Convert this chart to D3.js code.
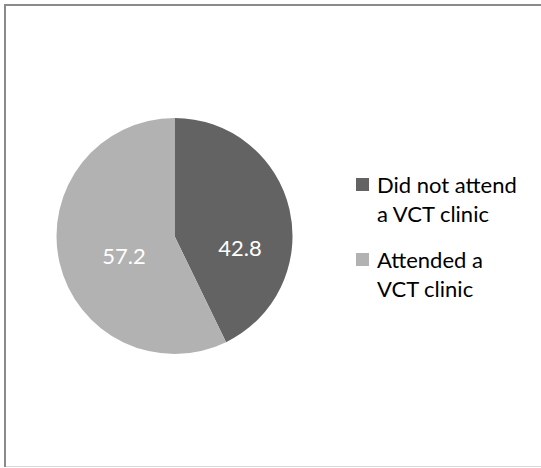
<!DOCTYPE html>
<html>
<head>
<meta charset="utf-8">
<script src="https://cdn.jsdelivr.net/npm/d3@7"></script>
<style>
  html, body { margin: 0; padding: 0; background: #fff; }
  svg { display: block; }
  text { font-family: "Lato", "Open Sans", sans-serif; }
</style>
</head>
<body>
<svg id="chart" width="541" height="468"></svg>
<script>
// ---- data ----
const categories = ["Did not attend a VCT clinic", "Attended a VCT clinic"];
const legendLines = [["Did not attend", "a VCT clinic"], ["Attended a", "VCT clinic"]];
const values = [42.8, 57.2];
const valueLabels = ["42.8", "57.2"];
const colors = ["#636363", "#b2b2b2"];

// ---- layout ----
const W = 541, H = 468;
const cx = 174.5, cy = 236, R = 118;
const fontSize = 22;
// label nudges (Excel-style label placement)
const labelNudge = [[8, 25], [7, 6]];

const svg = d3.select("#chart");

// frame
svg.append("line").attr("x1", 4).attr("x2", W).attr("y1", 5).attr("y2", 5)
  .attr("stroke", "#8a8a8a").attr("stroke-width", 2);
svg.append("line").attr("x1", 5).attr("x2", 5).attr("y1", 4).attr("y2", 467)
  .attr("stroke", "#8a8a8a").attr("stroke-width", 2);
svg.append("line").attr("x1", 6).attr("x2", W).attr("y1", 466.5).attr("y2", 466.5)
  .attr("stroke", "#d9d9d9").attr("stroke-width", 1);

const pie = d3.pie().sort(null).value(d => d)
  .startAngle(0).endAngle(2 * Math.PI);
const arcs = pie(values);
const arc = d3.arc().innerRadius(0).outerRadius(R);
const labelArc = d3.arc().innerRadius(0).outerRadius(R);

const g = svg.append("g").attr("transform", `translate(${cx},${cy})`);
g.selectAll("path.slice").data(arcs).join("path")
  .attr("class", "slice")
  .attr("d", arc)
  .attr("fill", (d, i) => colors[i]);

g.selectAll("text.val").data(arcs).join("text")
  .attr("class", "val")
  .attr("x", (d, i) => labelArc.centroid(d)[0] + labelNudge[i][0])
  .attr("y", (d, i) => labelArc.centroid(d)[1] + labelNudge[i][1])
  .attr("text-anchor", "middle")
  .attr("dominant-baseline", "central")
  .attr("fill", "#ffffff")
  .attr("font-size", fontSize)
  .text((d, i) => valueLabels[i]);

// legend
const legend = svg.append("g").attr("transform", "translate(356,178)");
const item = legend.selectAll("g.item").data(categories).join("g")
  .attr("class", "item")
  .attr("transform", (d, i) => `translate(0,${i * 75})`);
item.append("rect").attr("width", 13).attr("height", 13)
  .attr("fill", (d, i) => colors[i]);
item.each(function (d, i) {
  const t = d3.select(this).append("text")
    .attr("x", 21).attr("y", 14.5)
    .attr("font-size", fontSize).attr("fill", "#000");
  legendLines[i].forEach((ln, j) => {
    t.append("tspan").attr("x", 21).attr("dy", j === 0 ? 0 : 29.5).text(ln);
  });
});
</script>
</body>
</html>
